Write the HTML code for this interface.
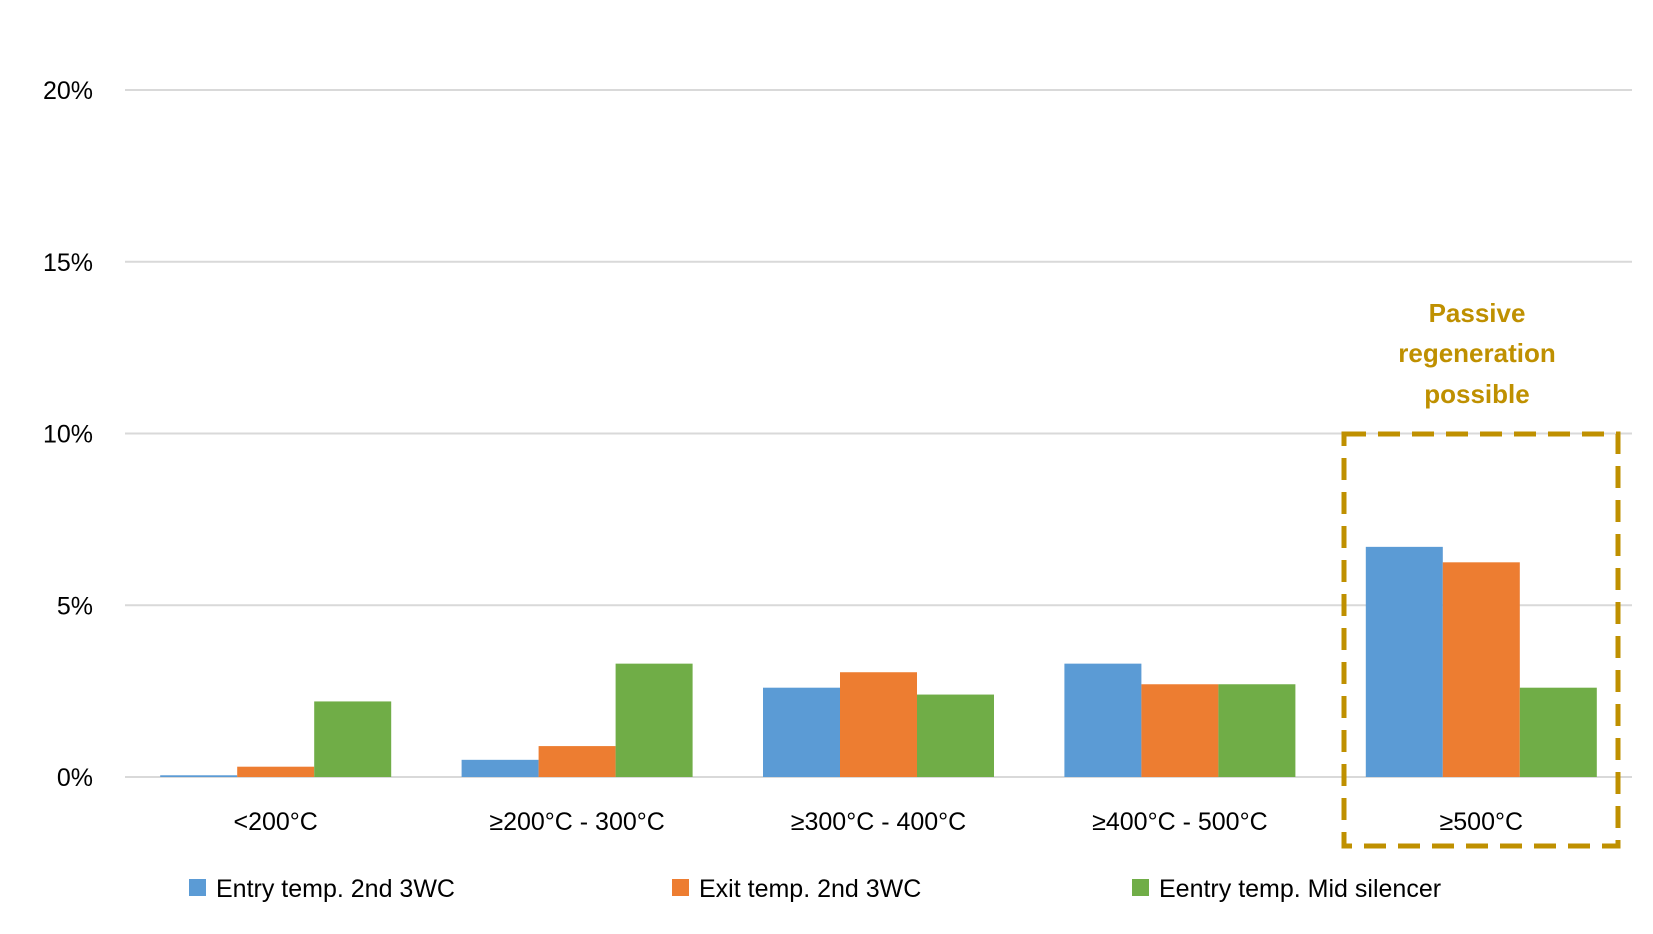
<!DOCTYPE html>
<html><head><meta charset="utf-8"><style>
body{margin:0;background:#fff;}
svg{display:block;font-family:"Liberation Sans",sans-serif;}
</style></head><body>
<svg id="chart" width="1653" height="934" viewBox="0 0 1653 934">
<g id="grid"></g><g id="bars"></g><g id="xlabels"></g><g id="legend"></g>
<rect x="1344" y="434" width="274" height="412" fill="none" stroke="#BF9000" stroke-width="5" stroke-dasharray="22 12"/>
<g fill="#BF9000" font-weight="bold" font-size="26" text-anchor="middle">
<text x="1477" y="322">Passive</text>
<text x="1477" y="362">regeneration</text>
<text x="1477" y="403">possible</text>
</g>
</svg>
<script>
const categories=["<200°C","≥200°C - 300°C","≥300°C - 400°C","≥400°C - 500°C","≥500°C"];
const seriesNames=["Entry temp. 2nd 3WC","Exit temp. 2nd 3WC","Eentry temp. Mid silencer"];
const entryVals=[0.05,0.5,2.6,3.3,6.7];
const exitVals=[0.3,0.9,3.05,2.7,6.25];
const midVals=[2.2,3.3,2.4,2.7,2.6];
const yTicks=[0,5,10,15,20];
const colors=["#5B9BD5","#ED7D31","#70AD47"];
const NS="http://www.w3.org/2000/svg";
const x0=125,x1=1632,y0=777,yTop=90;
const y=v=>y0-(v/20)*(y0-yTop);
const catW=(x1-x0)/categories.length;
const barW=77;
function mk(tag,attrs,parent){const e=document.createElementNS(NS,tag);for(const k in attrs)e.setAttribute(k,attrs[k]);parent.appendChild(e);return e;}
const grid=document.getElementById('grid');
yTicks.forEach(t=>{
  const l=mk('line',{x1:x0,x2:x1,y1:y(t),y2:y(t),stroke:'#D9D9D9','stroke-width':2},grid);
  
  
  const tx=mk('text',{x:93,y:y(t)+9,'text-anchor':'end','font-size':25,fill:'#000'},grid);
  tx.textContent=t+'%';
  
  
});
const bars=document.getElementById('bars');
const allSeries=[entryVals,exitVals,midVals];
categories.forEach((c,i)=>{
  const cx=x0+catW*(i+0.5);
  allSeries.forEach((s,j)=>{
    const bx=cx-1.5*barW+j*barW;
    const r=mk('rect',{x:bx,y:y(s[i]),width:barW,height:y0-y(s[i]),fill:colors[j]},bars);
    
    
  });
  const t=mk('text',{x:cx,y:830,'text-anchor':'middle','font-size':25,fill:'#000'},document.getElementById('xlabels'));
  t.textContent=c;
  
  
});
const legend=document.getElementById('legend');
const lx=[189,672,1132];
seriesNames.forEach((n,j)=>{
  const g=mk('g',{},legend);
  
  
  mk('rect',{x:lx[j],y:879,width:17,height:17,fill:colors[j]},g);
  const t=mk('text',{x:lx[j]+27,y:897,'font-size':25,fill:'#000'},g);
  t.textContent=n;
});
</script>
</body></html>
